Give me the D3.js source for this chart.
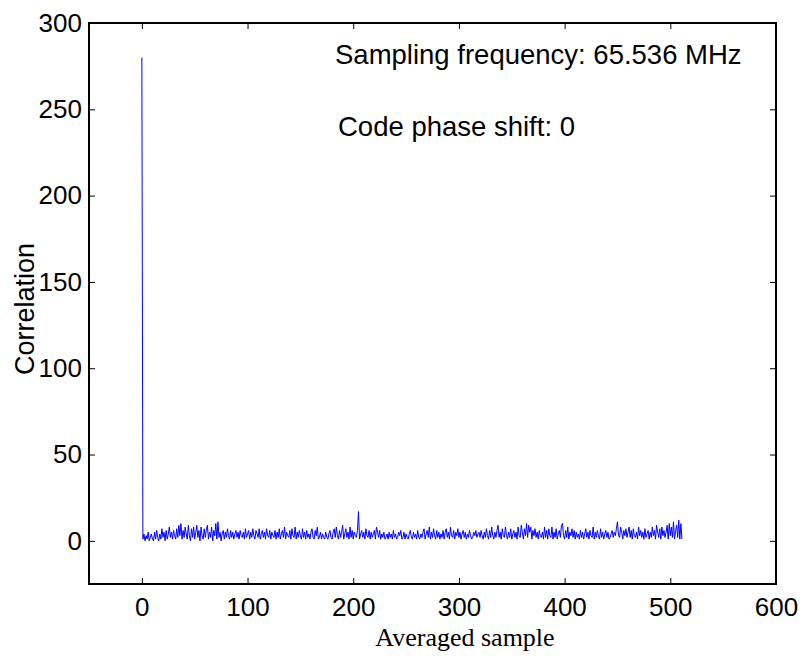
<html>
<head>
<script type="text/javascript" src="https://d3js.org/d3.v7.min.js"></script>
<style>
    body { margin: 0; background: #ffffff; }
    text { font-family: 'Liberation Sans', Arial, sans-serif; }
</style>
</head>
<body>
<svg id="chart" width="804" height="658"></svg>
<script type="text/javascript">
// correlation per averaged sample
var correlation = [
    280, 1, 4, 0, 3, 1, 5, 0, 2, 4, 1, 0, 5, 1, 6, 2, 0, 4, 1, 7, 2, 5, 0, 6, 1, 4, 8, 2, 5, 1, 6, 3,
    1, 7, 2, 9, 3, 10, 1, 6, 2, 8, 4, 1, 9, 3, 0, 7, 2, 8, 1, 5, 9, 2, 6, 0, 8, 3, 1, 7, 2, 6, 9, 1,
    5, 2, 8, 0, 6, 3, 10, 1, 11, 2, 5, 0, 4, 6, 1, 5, 2, 7, 3, 1, 6, 2, 5, 1, 4, 6, 2, 5, 1, 6, 3, 2,
    5, 1, 7, 2, 4, 6, 1, 5, 2, 7, 3, 1, 6, 4, 2, 7, 1, 4, 6, 2, 5, 1, 7, 3, 2, 6, 1, 5, 3, 2, 6, 1,
    5, 2, 7, 1, 4, 6, 2, 8, 1, 5, 3, 2, 6, 1, 7, 3, 2, 8, 1, 5, 2, 6, 3, 1, 7, 2, 5, 1, 6, 2, 4, 1,
    5, 7, 2, 1, 6, 3, 8, 1, 2, 5, 1, 4, 2, 1, 5, 2, 1, 4, 6, 2, 1, 5, 7, 2, 8, 3, 1, 6, 2, 5, 9, 1,
    4, 7, 2, 5, 1, 8, 2, 6, 1, 5, 3, 2, 6, 17, 1, 4, 6, 2, 5, 1, 7, 3, 2, 6, 1, 5, 2, 4, 6, 1, 8, 5,
    2, 6, 1, 4, 2, 5, 1, 2, 4, 1, 5, 2, 4, 1, 6, 2, 4, 1, 2, 5, 3, 6, 1, 2, 5, 1, 4, 2, 1, 4, 6, 2,
    1, 5, 2, 4, 1, 6, 2, 1, 4, 2, 5, 7, 1, 4, 6, 2, 8, 1, 5, 2, 7, 3, 1, 6, 2, 5, 1, 4, 2, 6, 1, 5,
    7, 2, 5, 1, 8, 3, 2, 6, 1, 5, 3, 7, 2, 5, 1, 4, 6, 2, 5, 1, 4, 2, 6, 3, 1, 2, 5, 3, 6, 2, 4, 5,
    2, 6, 3, 1, 5, 2, 7, 3, 1, 6, 2, 8, 3, 1, 5, 2, 6, 9, 2, 5, 1, 7, 3, 2, 8, 3, 1, 5, 2, 7, 1, 4,
    6, 2, 5, 1, 8, 3, 2, 9, 5, 1, 7, 3, 10, 2, 9, 5, 8, 1, 6, 3, 7, 2, 5, 1, 6, 3, 2, 5, 1, 8, 2, 6,
    1, 7, 3, 2, 8, 1, 5, 2, 7, 1, 4, 6, 2, 9, 10, 3, 1, 6, 2, 8, 1, 5, 3, 7, 2, 6, 1, 5, 2, 4, 1, 6,
    2, 5, 1, 4, 7, 2, 5, 1, 6, 3, 2, 8, 1, 5, 2, 6, 3, 1, 7, 2, 5, 1, 4, 6, 2, 5, 1, 2, 4, 6, 2, 5,
    3, 7, 11, 3, 2, 8, 5, 1, 6, 3, 7, 2, 5, 8, 2, 6, 1, 7, 3, 2, 5, 1, 8, 3, 6, 2, 5, 1, 7, 2, 4, 6,
    1, 5, 2, 8, 3, 6, 1, 9, 5, 2, 7, 1, 8, 3, 6, 2, 5, 9, 1, 10, 3, 8, 2, 11, 1, 6, 9, 2, 12, 1, 10, 1
];
var xTicks = [0, 100, 200, 300, 400, 500, 600];
var yTicks = [0, 50, 100, 150, 200, 250, 300];
var notes = ["Sampling frequency: 65.536 MHz", "Code phase shift: 0"];

var svg = d3.select("#chart");
// plot box edges (px)
var boxL = 89, boxR = 776, boxT = 23, boxB = 584;

var x = d3.scaleLinear().domain([-50, 600]).range([boxL, boxR]);
var y = d3.scaleLinear().domain([-25, 300]).range([boxB, boxT]);

// data line
var line = d3.line()
    .x(function(d, i) { return x(i); })
    .y(function(d) { return y(d); });

svg.append("path")
    .datum(correlation)
    .attr("fill", "none")
    .attr("stroke", "#0000ff")
    .attr("stroke-width", 1)
    .attr("d", line);

// axes, ticks inside on all four sides
function styleAxis(g, showLabels) {
    g.select(".domain").remove();
    g.selectAll(".tick line").attr("stroke", "#000").attr("stroke-width", 1);
    g.selectAll(".tick text")
        .attr("fill", "#000")
        .style("font-size", "26px")
        .style("font-family", "'Liberation Sans', Arial, sans-serif");
    if (!showLabels) g.selectAll(".tick text").remove();
}

svg.append("g")
    .attr("transform", "translate(0," + boxB + ")")
    .call(d3.axisBottom(x).tickValues(xTicks).tickSizeInner(-6).tickSizeOuter(0).tickPadding(14))
    .call(function(g) { styleAxis(g, true); });

svg.append("g")
    .attr("transform", "translate(0," + boxT + ")")
    .call(d3.axisTop(x).tickValues(xTicks).tickSizeInner(-6).tickSizeOuter(0))
    .call(function(g) { styleAxis(g, false); });

svg.append("g")
    .attr("transform", "translate(" + boxL + ",0)")
    .call(d3.axisLeft(y).tickValues(yTicks).tickSizeInner(-6).tickSizeOuter(0).tickPadding(7))
    .call(function(g) { styleAxis(g, true); });

svg.append("g")
    .attr("transform", "translate(" + boxR + ",0)")
    .call(d3.axisRight(y).tickValues(yTicks).tickSizeInner(-6).tickSizeOuter(0))
    .call(function(g) { styleAxis(g, false); });

// box
svg.append("rect")
    .attr("x", boxL).attr("y", boxT)
    .attr("width", boxR - boxL).attr("height", boxB - boxT)
    .attr("fill", "none")
    .attr("stroke", "#000")
    .attr("stroke-width", 2);

// annotations
svg.append("text")
    .attr("x", 335).attr("y", 64)
    .style("font-size", "27.5px")
    .text(notes[0]);

svg.append("text")
    .attr("x", 338).attr("y", 136)
    .style("font-size", "27.5px")
    .text(notes[1]);

// axis titles
svg.append("text")
    .attr("transform", "translate(34,309) rotate(-90)")
    .attr("text-anchor", "middle")
    .style("font-size", "27px")
    .text("Correlation");

svg.append("text")
    .attr("x", 465).attr("y", 646)
    .attr("text-anchor", "middle")
    .style("font-family", "'Liberation Serif', 'Times New Roman', serif")
    .style("font-size", "26px")
    .text("Averaged sample");
</script>
</body>
</html>
